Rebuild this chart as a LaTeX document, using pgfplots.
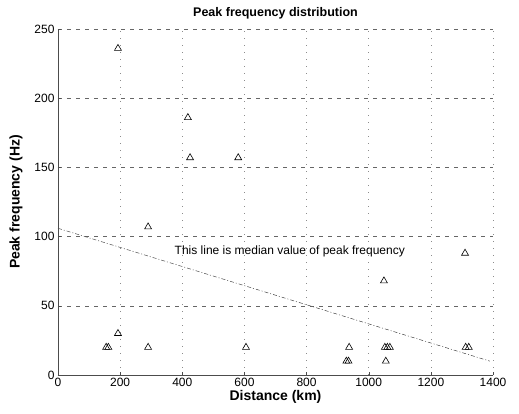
\documentclass[border=0pt]{standalone}
\usepackage{pgfplots}
\pgfplotsset{compat=1.18}
\usepackage{fontspec}
\setmainfont{Liberation Sans}
\begin{document}
\begin{tikzpicture}
\begin{axis}[
  scale only axis,
  width=435pt, height=346pt,
  xmin=0, xmax=1400, ymin=0, ymax=250,
  xtick={0,200,...,1400}, ytick={0,50,...,250},
  /pgf/number format/assume math mode=true,
  /pgf/number format/1000 sep={},
  scaled x ticks=false,
  xticklabel style={font=\fontsize{12}{12}\selectfont},
  yticklabel style={font=\fontsize{12}{12}\selectfont},
  xlabel={\textbf{Distance (km)}},
  ylabel={\textbf{Peak frequency (Hz)}},
  xlabel style={font=\fontsize{14}{14}\selectfont, yshift=4pt},
  ylabel style={font=\fontsize{14}{14}\selectfont, yshift=5pt},
  title={\textbf{Peak frequency distribution}},
  title style={font=\fontsize{12.5}{12.5}\selectfont, yshift=0pt},
  axis line style={black!70, line width=0.5pt},
  axis x line*=bottom, axis y line*=left,
  tick style={black!70},
  major tick length=3pt,
  tick align=inside,
  grid=major,
  x grid style={black!45, line width=0.5pt, dash pattern=on 1pt off 6pt},
  y grid style={black!60, line width=0.5pt, dash pattern=on 4pt off 5pt},
  clip=false,
]
\addplot[only marks, mark=triangle, mark size=4pt, mark options={black, line width=0.6pt}] coordinates {
(193,236) (418,186) (425,157) (580,157) (290,107) (1310,88) (1049,68)
(193,30) (155,20) (162,20) (290,20) (605,20) (937,20) (928,10) (935,10)
(1052,20) (1060,20) (1068,20) (1055,10) (1312,20) (1322,20)
};
\addplot[black!70, line width=0.5pt, dash pattern=on 4pt off 2pt on 1pt off 2pt] coordinates {(0,106) (1390,10)};
\node[anchor=west, font=\fontsize{12}{12}\selectfont, inner sep=0pt] at (axis cs:375,89) {This line is median value of peak frequency};
\end{axis}
\pgfresetboundingbox
\path[use as bounding box] ([xshift=-58pt,yshift=-39pt]current axis.south west) rectangle ([xshift=26pt,yshift=29pt]current axis.north east);
\end{tikzpicture}
\end{document}
